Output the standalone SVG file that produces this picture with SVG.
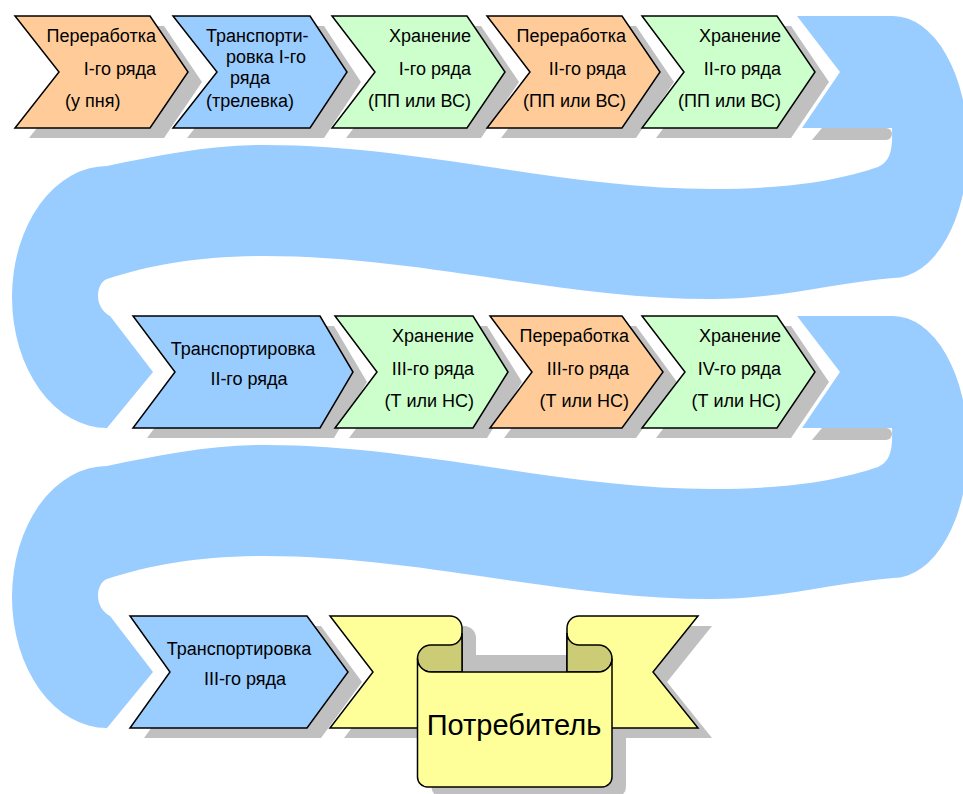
<svg xmlns="http://www.w3.org/2000/svg" width="963" height="794" viewBox="0 0 963 794">
<style>
.bg{fill:#FFFFFF}
.band{fill:#99CCFF}
.sh{fill:#C0C0C0}
.ch{stroke:#000;stroke-width:1.5;stroke-linejoin:miter}
.o{fill:#FFCC99}.b{fill:#99CCFF}.g{fill:#CCFFCC}.y{fill:#FFFF99}.ol{fill:#CCCC77}
text{font-family:"Liberation Sans",Arial,sans-serif;font-size:18px;fill:#000}
.e{text-anchor:end}.m{text-anchor:middle}
.big{font-size:29px}
</style>
<rect class="bg" x="0" y="0" width="963" height="794"/>
<g id="connectors">
  <g id="band-1">
    <path class="band" d="M797,16 H893 A75,131 0 0 1 893,278 C840,282 780,299 712,299 C560,299 420,256 264,256 C200,256 150,265 107,279 C95,284 94,308 110,316 L153,372 L107,428 A95,131 0 0 1 107,166 C160,155 210,145 264,145 C420,145 560,189 712,189 C790,189 840,180 878,167 C890,162 893,150 892,128 H802 L840,72 Z"/>
    <path class="sh" d="M812,140 L822,128 H886 A6,6 0 0 1 886,140 Z"/>
  </g>
  <g id="band-2" transform="translate(0,300)">
    <path class="band" d="M797,16 H893 A75,131 0 0 1 893,278 C840,282 780,299 712,299 C560,299 420,256 264,256 C200,256 150,265 107,279 C95,284 94,308 110,316 L153,372 L107,428 A95,131 0 0 1 107,166 C160,155 210,145 264,145 C420,145 560,189 712,189 C790,189 840,180 878,167 C890,162 893,150 892,128 H802 L840,72 Z"/>
    <path class="sh" d="M812,140 L822,128 H886 A6,6 0 0 1 886,140 Z"/>
  </g>
</g>

<g id="n1">
  <polygon class="sh" points="29,26 164,26 202,82 164,138 29,138 73,82"/>
  <polygon class="ch o" points="15,16 150,16 188,72 150,128 15,128 59,72"/>
  <text class="e" x="156" y="42">Переработка</text>
  <text class="e" x="156" y="75">I-го ряда</text>
  <text x="65" y="107">(у пня)</text>
</g>
<g id="n2">
  <polygon class="sh" points="187,26 324,26 361,82 324,138 187,138 231,82"/>
  <polygon class="ch b" points="173,16 310,16 347,72 310,128 173,128 217,72"/>
  <text x="206" y="42">Транспорти-</text>
  <text x="226" y="63">ровка I-го</text>
  <text x="230" y="84">ряда</text>
  <text x="206" y="107">(трелевка)</text>
</g>
<g id="n3">
  <polygon class="sh" points="346,26 481,26 519,82 481,138 346,138 389,82"/>
  <polygon class="ch g" points="332,16 467,16 505,72 467,128 332,128 375,72"/>
  <text class="e" x="471" y="42">Хранение</text>
  <text class="e" x="471" y="75">I-го ряда</text>
  <text class="e" x="471" y="107">(ПП или ВС)</text>
</g>
<g id="n4">
  <polygon class="sh" points="501,26 636,26 674,82 636,138 501,138 544,82"/>
  <polygon class="ch o" points="487,16 622,16 660,72 622,128 487,128 530,72"/>
  <text class="e" x="626" y="42">Переработка</text>
  <text class="e" x="626" y="75">II-го ряда</text>
  <text class="e" x="626" y="107">(ПП или ВС)</text>
</g>
<g id="n5">
  <polygon class="sh" points="656,26 791,26 829,82 791,138 656,138 698,82"/>
  <polygon class="ch g" points="642,16 777,16 815,72 777,128 642,128 684,72"/>
  <text class="e" x="781" y="42">Хранение</text>
  <text class="e" x="781" y="75">II-го ряда</text>
  <text class="e" x="781" y="107">(ПП или ВС)</text>
</g>

<g id="n6">
  <polygon class="sh" points="147,326 334,326 367,382 334,438 147,438 189,382"/>
  <polygon class="ch b" points="133,316 320,316 353,372 320,428 133,428 175,372"/>
  <text class="m" x="243" y="355">Транспортировка</text>
  <text class="m" x="249" y="385">II-го ряда</text>
</g>
<g id="n7">
  <polygon class="sh" points="349,326 487,326 522,382 487,438 349,438 391,382"/>
  <polygon class="ch g" points="335,316 473,316 508,372 473,428 335,428 377,372"/>
  <text class="e" x="474" y="342">Хранение</text>
  <text class="e" x="474" y="375">III-го ряда</text>
  <text class="e" x="474" y="407">(Т или НС)</text>
</g>
<g id="n8">
  <polygon class="sh" points="504,326 636,326 677,382 636,438 504,438 546,382"/>
  <polygon class="ch o" points="490,316 622,316 663,372 622,428 490,428 532,372"/>
  <text class="e" x="629" y="342">Переработка</text>
  <text class="e" x="629" y="375">III-го ряда</text>
  <text class="e" x="629" y="407">(Т или НС)</text>
</g>
<g id="n9">
  <polygon class="sh" points="656,326 791,326 829,382 791,438 656,438 699,382"/>
  <polygon class="ch g" points="642,316 777,316 815,372 777,428 642,428 685,372"/>
  <text class="e" x="781" y="342">Хранение</text>
  <text class="e" x="781" y="375">IV-го ряда</text>
  <text class="e" x="781" y="407">(Т или НС)</text>
</g>

<g id="n10">
  <polygon class="sh" points="144,626 321,626 362,682 321,738 144,738 184,682"/>
  <polygon class="ch b" points="130,616 307,616 348,672 307,728 130,728 170,672"/>
  <text class="m" x="239" y="655">Транспортировка</text>
  <text class="m" x="245" y="685">III-го ряда</text>
</g>

<g id="n11">
  <g transform="translate(14,10)">
    <path class="sh" d="M330,616 H450 A12,12 0 0 1 462,628 V728 H330 L373,672 Z"/>
    <path class="sh" d="M698,616 H579 A12,12 0 0 0 567,628 V728 H698 L653,672 Z"/>
    <path class="sh" d="M417.5,658.5 A13.5,13.5 0 0 1 431,645 H598.5 A13.5,13.5 0 0 1 612,658.5 V777 A10,10 0 0 1 602,787 H427.5 A10,10 0 0 1 417.5,777 Z"/>
  </g>
  <path class="ch y" d="M330,616 H450 A12,12 0 0 1 462,628 V728 H330 L373,672 Z"/>
  <path class="ch y" d="M698,616 H579 A12,12 0 0 0 567,628 V728 H698 L653,672 Z"/>
  <path class="ch ol" d="M462,633 A12,12 0 0 1 450,645 H431 A13.5,13.5 0 0 0 431,672 H462 Z"/>
  <path class="ch ol" d="M567,633 A12,12 0 0 0 579,645 H598.5 A13.5,13.5 0 0 1 598.5,672 H567 Z"/>
  <path class="ch y" d="M417.5,658.5 A13.5,13.5 0 0 0 431,672 H598.5 A13.5,13.5 0 0 0 612,658.5 V777 A10,10 0 0 1 602,787 H427.5 A10,10 0 0 1 417.5,777 Z"/>
  <text class="m big" x="514" y="735">Потребитель</text>
</g>
</svg>
